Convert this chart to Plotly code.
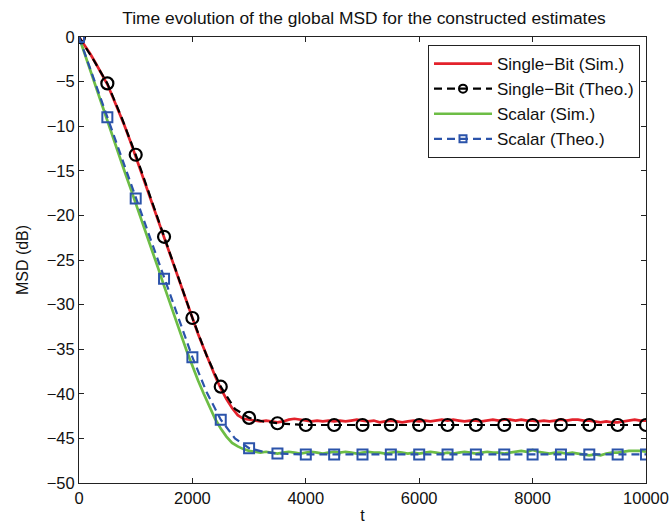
import plotly.graph_objects as go

# ---------------- data ----------------
t_sim = list(range(0, 10001, 100))

single_bit_sim = [
    0.0, -0.9, -1.9, -3.0, -4.1, -5.3, -6.8, -8.3, -9.9, -11.6,
    -13.4, -15.2, -17.0, -18.8, -20.7, -22.6, -24.4, -26.2, -28.0, -29.8,
    -31.6, -33.3, -34.9, -36.5, -38.0, -39.4, -40.6, -41.6, -42.4, -42.8,
    -42.9, -43.0, -43.1, -43.0, -43.1, -43.2, -43.1, -42.9, -42.8, -42.9,
    -43.0, -43.1, -43.0, -43.1, -43.0, -43.1, -43.0, -43.1, -43.0, -42.9,
    -43.0, -43.1, -43.0, -43.2, -43.1, -43.0, -43.1, -43.2, -43.1, -43.0,
    -43.1, -43.0, -43.1, -43.0, -42.9, -43.0, -42.9, -43.0, -43.1, -43.0,
    -43.0, -43.1, -43.0, -42.9, -43.0, -42.9, -42.9, -43.0, -42.9, -43.0,
    -43.0, -43.1, -43.0, -43.1, -43.0, -42.9, -43.0, -42.9, -42.9, -43.0,
    -43.0, -43.1, -43.2, -43.1, -43.2, -43.2, -43.1, -43.0, -42.9, -43.0,
    -43.0,
]

scalar_sim = [
    0.0, -1.9, -3.8, -5.7, -7.6, -9.5, -11.3, -13.2, -15.0, -16.8,
    -18.6, -20.4, -22.2, -24.1, -26.0, -27.9, -29.8, -31.6, -33.4, -35.2,
    -36.9, -38.5, -40.0, -41.5, -42.8, -43.9, -44.8, -45.5, -45.9, -46.2,
    -46.4, -46.5, -46.6, -46.5, -46.6, -46.7, -46.6, -46.5, -46.6, -46.7,
    -46.6, -46.5, -46.6, -46.7, -46.6, -46.5, -46.6, -46.5, -46.6, -46.7,
    -46.6, -46.5, -46.6, -46.6, -46.7, -46.6, -46.5, -46.6, -46.7, -46.6,
    -46.7, -46.6, -46.5, -46.6, -46.7, -46.6, -46.7, -46.6, -46.5, -46.6,
    -46.7, -46.6, -46.5, -46.6, -46.6, -46.7, -46.6, -46.5, -46.4, -46.5,
    -46.3, -46.5, -46.6, -46.7, -46.6, -46.6, -46.7, -46.6, -46.7, -46.8,
    -46.9, -46.8, -46.9, -46.7, -46.6, -46.6, -46.5, -46.4, -46.4, -46.4,
    -46.5,
]

t_theo = [0, 250, 500, 750, 1000, 1250, 1500, 1750, 2000, 2250, 2500, 2750,
          3000, 3250, 3500, 3750, 4000, 4500, 5000, 5500, 6000, 6500, 7000,
          7500, 8000, 8500, 9000, 9500, 10000]

single_bit_theo = [0.0, -2.5, -5.2, -9.0, -13.2, -17.8, -22.4, -27.0, -31.5,
                   -35.7, -39.2, -41.7, -42.7, -43.1, -43.3, -43.4, -43.5,
                   -43.5, -43.5, -43.5, -43.5, -43.5, -43.5, -43.5, -43.5,
                   -43.5, -43.5, -43.5, -43.5]

scalar_theo = [0.0, -4.5, -9.0, -13.6, -18.1, -22.6, -27.1, -31.6, -35.9,
               -39.8, -42.9, -45.0, -46.1, -46.5, -46.7, -46.75, -46.8,
               -46.8, -46.8, -46.8, -46.8, -46.8, -46.8, -46.8, -46.8,
               -46.8, -46.8, -46.8, -46.8]

marker_step = 500
x_ticks = [0, 2000, 4000, 6000, 8000, 10000]
y_ticks = [0, -5, -10, -15, -20, -25, -30, -35, -40, -45, -50]

names = ["Single\u2212Bit (Sim.)", "Single\u2212Bit (Theo.)",
         "Scalar (Sim.)", "Scalar (Theo.)"]

# ---------------- style ----------------
RED = "#e3222b"
BLACK = "#000000"
GREEN = "#6dbd45"
BLUE = "#2b53aa"
FONT = "Liberation Sans, Arial, Helvetica, sans-serif"
TXT = "#111111"

mk_t = [t for t in t_theo if t % marker_step == 0]
mk_sb = [v for t, v in zip(t_theo, single_bit_theo) if t % marker_step == 0]
mk_sc = [v for t, v in zip(t_theo, scalar_theo) if t % marker_step == 0]

fig = go.Figure()

fig.add_trace(go.Scatter(x=t_sim, y=single_bit_sim, mode="lines",
                         line=dict(color=RED, width=2.7),
                         name=names[0], legendrank=1))
fig.add_trace(go.Scatter(x=t_sim, y=scalar_sim, mode="lines",
                         line=dict(color=GREEN, width=2.7),
                         name=names[2], legendrank=3))
fig.add_trace(go.Scatter(x=t_theo, y=single_bit_theo, mode="lines",
                         line=dict(color=BLACK, width=2.2, dash="8px,5px"),
                         showlegend=False, hoverinfo="skip"))
fig.add_trace(go.Scatter(x=t_theo, y=scalar_theo, mode="lines",
                         line=dict(color=BLUE, width=2.2, dash="8px,5px"),
                         showlegend=False, hoverinfo="skip"))
fig.add_trace(go.Scatter(x=mk_t, y=mk_sb, mode="markers",
                         marker=dict(symbol="circle-open", size=12,
                                     color=BLACK, line=dict(width=2.2)),
                         showlegend=False))
fig.add_trace(go.Scatter(x=mk_t, y=mk_sc, mode="markers",
                         marker=dict(symbol="square-open", size=10,
                                     color=BLUE, line=dict(width=2)),
                         showlegend=False))
# legend entries for the theoretical curves (line + marker)
fig.add_trace(go.Scatter(x=[None], y=[None], mode="lines+markers",
                         line=dict(color=BLACK, width=2.2, dash="8px,5px"),
                         marker=dict(symbol="circle-open", size=8,
                                     color=BLACK, line=dict(width=2)),
                         name=names[1], legendrank=2))
fig.add_trace(go.Scatter(x=[None], y=[None], mode="lines+markers",
                         line=dict(color=BLUE, width=2.2, dash="8px,5px"),
                         marker=dict(symbol="square-open", size=7,
                                     color=BLUE, line=dict(width=2)),
                         name=names[3], legendrank=4))

axis_common = dict(showgrid=False, zeroline=False, showline=True,
                   linecolor="#222222", linewidth=1, mirror="ticks",
                   ticks="inside", ticklen=5, tickcolor="#222222",
                   automargin=False,
                   tickfont=dict(family=FONT, size=16.5, color=TXT))

fig.update_layout(
    width=671, height=525,
    margin=dict(l=79, r=25, t=37, b=42, autoexpand=False),
    paper_bgcolor="white", plot_bgcolor="white",
    font=dict(family=FONT, color=TXT),
    title=dict(text="Time evolution of the global MSD for the constructed estimates",
               x=364 / 671, xanchor="center", y=1 - 18 / 525, yanchor="middle",
               font=dict(family=FONT, size=17.4, color=TXT)),
    xaxis=dict(range=[0, 10000], tickvals=x_ticks,
               ticktext=[str(v) for v in x_ticks],
               title=dict(text="t", standoff=4,
                          font=dict(family=FONT, size=16, color=TXT)),
               **axis_common),
    yaxis=dict(range=[-50, 0], tickvals=y_ticks,
               title=dict(text="MSD (dB)", standoff=14,
                          font=dict(family=FONT, size=16, color=TXT)),
               **axis_common),
    legend=dict(x=(640 - 79) / 567, xanchor="right", y=(483 - 45) / 446,
                yanchor="top",
                bgcolor="white", bordercolor="#222222", borderwidth=1,
                font=dict(family=FONT, size=17, color=TXT),
                tracegroupgap=0, itemwidth=58),
    showlegend=True,
)

fig.write_html("out.html")
